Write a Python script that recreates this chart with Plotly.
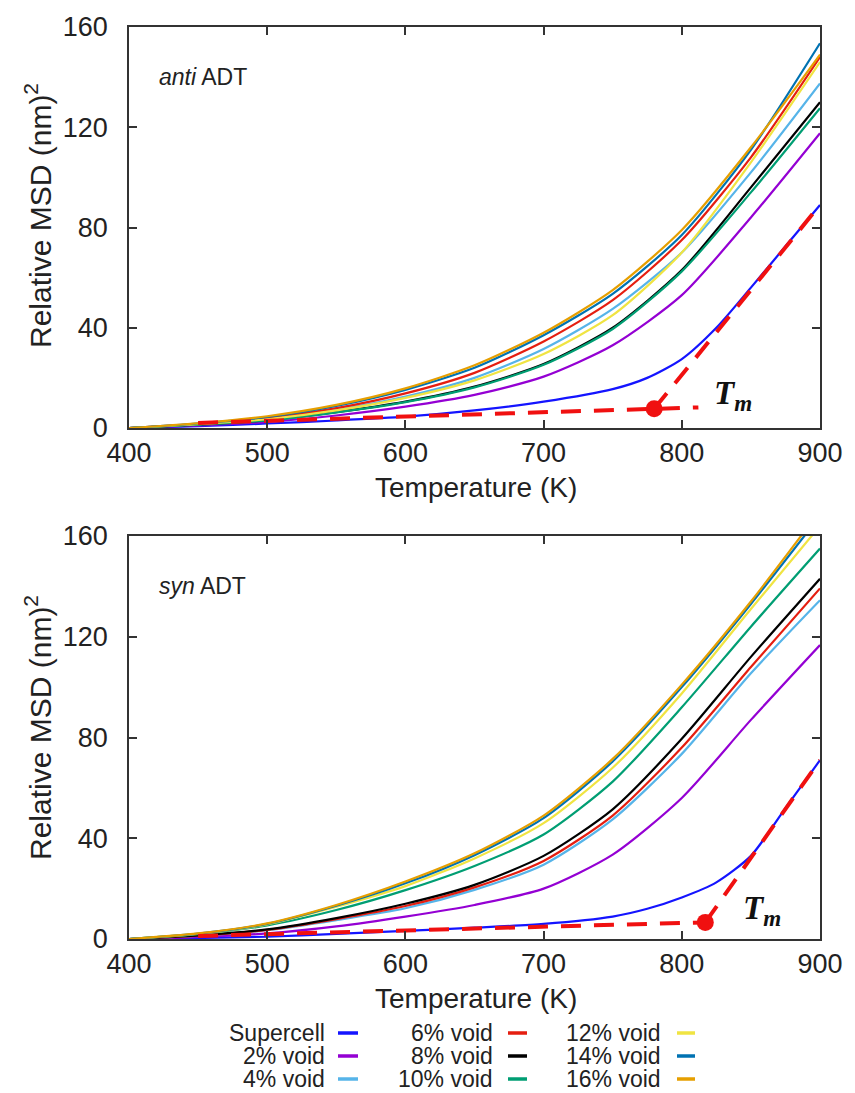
import plotly.graph_objects as go

# Temperature grid (K) for the void series
temperature = [400, 450, 500, 550, 600, 650, 700, 750, 800, 850, 900]
# Finer grid for the defect-free supercell, which bends sharply near T_m
temperature_supercell = [400, 450, 500, 550, 600, 650, 700, 750, 775, 800, 825, 850, 875, 900]

series_names = ["Supercell", "2% void", "4% void", "6% void", "8% void",
                "10% void", "12% void", "14% void", "16% void"]
series_colors = ["#1414ff", "#9400d3", "#56b4e9", "#e51e10", "#000000",
                 "#009e73", "#f0e442", "#0072b2", "#e69f00"]

# anti ADT: relative MSD (nm^2)
anti_supercell = [0, 0.7, 1.8, 3.0, 4.5, 7.0, 10.5, 15.5, 20, 27.5, 40, 56, 72.5, 89]
anti_void02 = [0, 1.0, 2.4, 5.0, 8.5, 13.2, 20.5, 33, 53, 84, 117.6]
anti_void04 = [0, 1.5, 3.6, 7.2, 12.5, 20, 31.5, 47.5, 70, 102, 137.5]
anti_void06 = [0, 1.7, 4.0, 7.9, 13.8, 22, 34.5, 51, 75, 108, 148]
anti_void08 = [0, 1.3, 3.1, 6.3, 10.5, 16.5, 25.5, 40, 63, 96, 130]
anti_void10 = [0, 1.3, 3.0, 6.2, 10.3, 16.2, 25.2, 39.5, 62.5, 94, 127.6]
anti_void12 = [0, 1.5, 3.5, 7.0, 12.0, 19, 29.5, 45, 70, 106, 146]
anti_void14 = [0, 1.8, 4.4, 8.8, 15.2, 24, 37, 53.5, 77, 111, 153.5]
anti_void16 = [0, 1.9, 4.7, 9.2, 15.8, 25, 38, 55, 79, 112, 149]

# syn ADT: relative MSD (nm^2)
syn_supercell = [0, 0.4, 0.9, 2.0, 3.2, 4.5, 6.0, 8.9, 12, 16.5, 22.5, 33, 52, 71]
syn_void02 = [0, 0.8, 2.2, 5.0, 8.9, 13.5, 20, 33.5, 56, 87, 116.7]
syn_void04 = [0, 1.3, 3.5, 7.5, 12.2, 19.5, 29.5, 47.5, 73.5, 105.5, 134.5]
syn_void06 = [0, 1.3, 3.6, 7.9, 13.1, 20.5, 31, 49, 76, 108, 139.2]
syn_void08 = [0, 1.4, 3.8, 8.3, 14, 21.5, 33, 51.5, 79.5, 112, 143]
syn_void10 = [0, 1.9, 5.4, 11.5, 19.4, 29, 41.5, 62.5, 92, 124, 155]
syn_void12 = [0, 2.0, 5.8, 12.8, 21, 32, 46, 68, 97.5, 131, 164]
syn_void14 = [0, 2.1, 6.0, 13.2, 22.1, 33.3, 48, 70.5, 100, 133, 168]
syn_void16 = [0, 2.2, 6.2, 13.5, 22.8, 34, 49, 71.5, 101, 134, 170]

# Linear fits below / above the melting point and their intersection T_m
anti_low_fit_T = [450, 812]
anti_low_fit = [2.0, 8.2]
anti_high_fit_T = [780, 900]
anti_high_fit = [7.65, 89]
anti_tm = (780, 7.65)

syn_low_fit_T = [450, 817]
syn_low_fit = [1.2, 6.6]
syn_high_fit_T = [817, 900]
syn_high_fit = [6.6, 71]
syn_tm = (817, 6.6)

anti_series = [anti_supercell, anti_void02, anti_void04, anti_void06, anti_void08,
               anti_void10, anti_void12, anti_void14, anti_void16]
syn_series = [syn_supercell, syn_void02, syn_void04, syn_void06, syn_void08,
              syn_void10, syn_void12, syn_void14, syn_void16]

W, H = 855, 1093
FONT = "Liberation Sans, Arial, Helvetica, sans-serif"
AXCOL = "#333333"
TXTCOL = "#222222"
FIT_RED = "#f01010"


def px(x):
    return x / W


def py(y):
    return 1 - y / H


fig = go.Figure()

panels = [
    dict(series=anti_series, xa="x", ya="y",
         low=(anti_low_fit_T, anti_low_fit), high=(anti_high_fit_T, anti_high_fit),
         tm=anti_tm),
    dict(series=syn_series, xa="x2", ya="y2",
         low=(syn_low_fit_T, syn_low_fit), high=(syn_high_fit_T, syn_high_fit),
         tm=syn_tm),
]

for p in panels:
    for i, values in enumerate(p["series"]):
        tx = temperature_supercell if i == 0 else temperature
        fig.add_trace(go.Scatter(
            x=tx, y=values, mode="lines",
            line=dict(color=series_colors[i], width=2.2, shape="spline", smoothing=0.7),
            xaxis=p["xa"], yaxis=p["ya"], showlegend=False, name=series_names[i]))
    for fx, fy in (p["low"], p["high"]):
        fig.add_trace(go.Scatter(
            x=fx, y=fy, mode="lines",
            line=dict(color=FIT_RED, width=4, dash="20px,13px"),
            xaxis=p["xa"], yaxis=p["ya"], showlegend=False))
    fig.add_trace(go.Scatter(
        x=[p["tm"][0]], y=[p["tm"][1]], mode="markers",
        marker=dict(color=FIT_RED, size=17, line=dict(width=0)),
        xaxis=p["xa"], yaxis=p["ya"], showlegend=False))

xdom = [px(129), px(820)]
axis_common = dict(
    showline=True, linecolor=AXCOL, linewidth=1.5, mirror="allticks",
    ticks="inside", ticklen=8, tickwidth=1.5, tickcolor=AXCOL,
    showgrid=False, zeroline=False, automargin=False,
    tickfont=dict(family=FONT, size=27, color=TXTCOL),
)

fig.update_layout(
    template="none",
    width=W, height=H,
    margin=dict(l=0, r=0, t=0, b=0, pad=0),
    paper_bgcolor="white", plot_bgcolor="white",
    xaxis=dict(domain=xdom, range=[400, 900], tickvals=[400, 500, 600, 700, 800, 900],
               anchor="y", ticklabelstandoff=0, **axis_common),
    yaxis=dict(domain=[py(428), py(27)], range=[0, 160], tickvals=[0, 40, 80, 120, 160],
               anchor="x", ticklabelstandoff=14, **axis_common),
    xaxis2=dict(domain=xdom, range=[400, 900], tickvals=[400, 500, 600, 700, 800, 900],
                anchor="y2", ticklabelstandoff=0, **axis_common),
    yaxis2=dict(domain=[py(939), py(536)], range=[0, 160], tickvals=[0, 40, 80, 120, 160],
                anchor="x2", ticklabelstandoff=14, **axis_common),
    showlegend=False,
)

annotations = []
# axis titles
for cy in (487, 998):
    annotations.append(dict(text="Temperature (K)", x=px(476), y=py(cy), xref="paper", yref="paper",
                            showarrow=False, xanchor="center", yanchor="middle",
                            font=dict(family=FONT, size=28, color=TXTCOL)))
for cy in (216, 728):
    annotations.append(dict(text="Relative MSD (nm)<sup>2</sup>", x=px(38), y=py(cy),
                            xref="paper", yref="paper", textangle=-90,
                            showarrow=False, xanchor="center", yanchor="middle",
                            font=dict(family=FONT, size=30, color=TXTCOL)))
# panel labels
annotations.append(dict(text="<i>anti</i> ADT", x=420, y=140, xref="x", yref="y",
                        showarrow=False, xanchor="left", yanchor="middle",
                        font=dict(family=FONT, size=23, color=TXTCOL)))
annotations.append(dict(text="<i>syn</i> ADT", x=420, y=140, xref="x2", yref="y2",
                        showarrow=False, xanchor="left", yanchor="middle",
                        font=dict(family=FONT, size=23, color=TXTCOL)))
# melting point labels
TM_FONT = dict(family="Liberation Serif, Times New Roman, serif", size=33, color="#111111")
annotations.append(dict(text="<b><i>T<sub>m</sub></i></b>", x=822, y=13, xref="x", yref="y",
                        showarrow=False, xanchor="left", yanchor="middle", font=TM_FONT))
annotations.append(dict(text="<b><i>T<sub>m</sub></i></b>", x=843, y=11.5, xref="x2", yref="y2",
                        showarrow=False, xanchor="left", yanchor="middle", font=TM_FONT))

# legend: three columns, label right-aligned with a short line sample after it
legend_rows = [1033, 1056, 1079]
legend_cols = [(327, 338, 358), (495, 508, 527), (663, 677, 695)]
shapes = []
for idx, name in enumerate(series_names):
    col, row = divmod(idx, 3)
    tx, sx0, sx1 = legend_cols[col]
    ry = legend_rows[row]
    annotations.append(dict(text=name, x=px(tx), y=py(ry), xref="paper", yref="paper",
                            showarrow=False, xanchor="right", yanchor="middle",
                            font=dict(family=FONT, size=23, color=TXTCOL)))
    shapes.append(dict(type="line", xref="paper", yref="paper",
                       x0=px(sx0), x1=px(sx1), y0=py(ry), y1=py(ry),
                       line=dict(color=series_colors[idx], width=3.5)))

fig.update_layout(annotations=annotations, shapes=shapes)

fig.write_html("out.html")
